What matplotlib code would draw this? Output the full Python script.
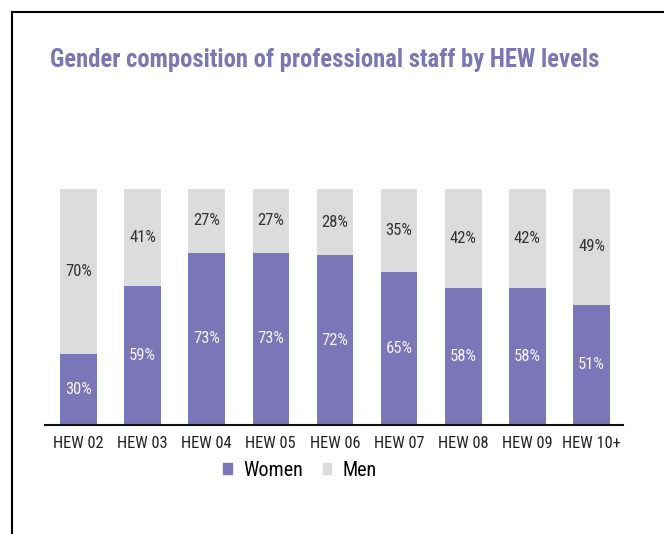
import matplotlib
matplotlib.use("Agg")
import matplotlib.pyplot as plt
from matplotlib.patches import Patch
from matplotlib import font_manager
from matplotlib.font_manager import FontProperties

categories = ["HEW 02", "HEW 03", "HEW 04", "HEW 05", "HEW 06", "HEW 07", "HEW 08", "HEW 09", "HEW 10+"]
women = [30, 59, 73, 73, 72, 65, 58, 58, 51]
men = [70, 41, 27, 27, 28, 35, 42, 42, 49]


def find_font(bold=False):
    cands = []
    for f in font_manager.fontManager.ttflist:
        fn = f.fname.lower()
        nm = f.name.lower()
        cond = ("narrow" in nm or "condensed" in nm or "narrow" in fn or "condensed" in fn
                or str(f.stretch) in ("condensed", "semi-condensed", "extra-condensed")
                or (isinstance(f.stretch, int) and f.stretch < 500))
        if not cond or f.style != "normal":
            continue
        w = f.weight if isinstance(f.weight, int) else (700 if "bold" in str(f.weight) else 400)
        if "mono" in nm or "serif" in nm and "sans" not in nm:
            continue
        score = abs(w - (600 if bold else 400))
        pref = 0
        if "liberation sans narrow" in nm:
            pref = -1000
        elif "roboto" in nm:
            pref = -800
        elif "dejavu sans" in nm:
            pref = -500
        cands.append((pref + score, f.fname))
    if cands:
        cands.sort()
        return FontProperties(fname=cands[0][1])
    return FontProperties(family="Liberation Sans", weight="bold" if bold else "normal")


FP = find_font(False)
FPB = find_font(True)

WOMEN_C = "#7b76b8"
MEN_C = "#dcdcde"

fig = plt.figure(figsize=(6.64, 5.34), dpi=100)
ax = fig.add_axes([45/664, 1-425/534, (623-45)/664, (425-189)/534])

x = list(range(len(categories)))
ax.bar(x, women, width=0.57, color=WOMEN_C, zorder=2)
ax.bar(x, men, width=0.57, bottom=women, color=MEN_C, zorder=2)

for i, (w, m) in enumerate(zip(women, men)):
    ax.text(i, w/2, f"{w}%", ha="center", va="center", color="#f4f4f8", fontproperties=FP, fontsize=12)
    ax.text(i, w + m/2, f"{m}%", ha="center", va="center", color="#333333", fontproperties=FP, fontsize=12)

ax.set_xlim(-0.52, 8.49)
ax.set_ylim(0, 100)
ax.set_xticks(x)
ax.set_xticklabels(categories, color="#222222")
for t in ax.get_xticklabels():
    t.set_fontproperties(FP)
    t.set_fontsize(11.8)
ax.tick_params(axis="x", length=0, pad=8)
ax.set_yticks([])
for s in ["top", "right", "left"]:
    ax.spines[s].set_visible(False)
ax.spines["bottom"].set_linewidth(1.5)
ax.spines["bottom"].set_color("#111111")

handles = [Patch(color=WOMEN_C, label="Women"), Patch(color=MEN_C, label="Men")]
lp = FP.copy()
lp.set_size(14.5)
fig.legend(handles=handles, loc="center", bbox_to_anchor=(300/664, 1-470/534), ncol=2,
           frameon=False, prop=lp, handlelength=0.42, handleheight=0.42,
           handletextpad=0.55, columnspacing=1.0)

tp = FPB.copy()
tp.set_size(17.7)
fig.text(50/664, 1-60/534, "Gender composition of professional staff by HEW levels",
         ha="left", va="center", fontproperties=tp, color=WOMEN_C)

# frame border lines (top and left)
fig.add_artist(plt.Line2D([12/664, 12/664], [0, 1-11.5/534], transform=fig.transFigure, color="black", lw=1.5))
fig.add_artist(plt.Line2D([12/664, 1], [1-11.5/534, 1-11.5/534], transform=fig.transFigure, color="black", lw=1.5))

fig.savefig("out.png", dpi=100)
